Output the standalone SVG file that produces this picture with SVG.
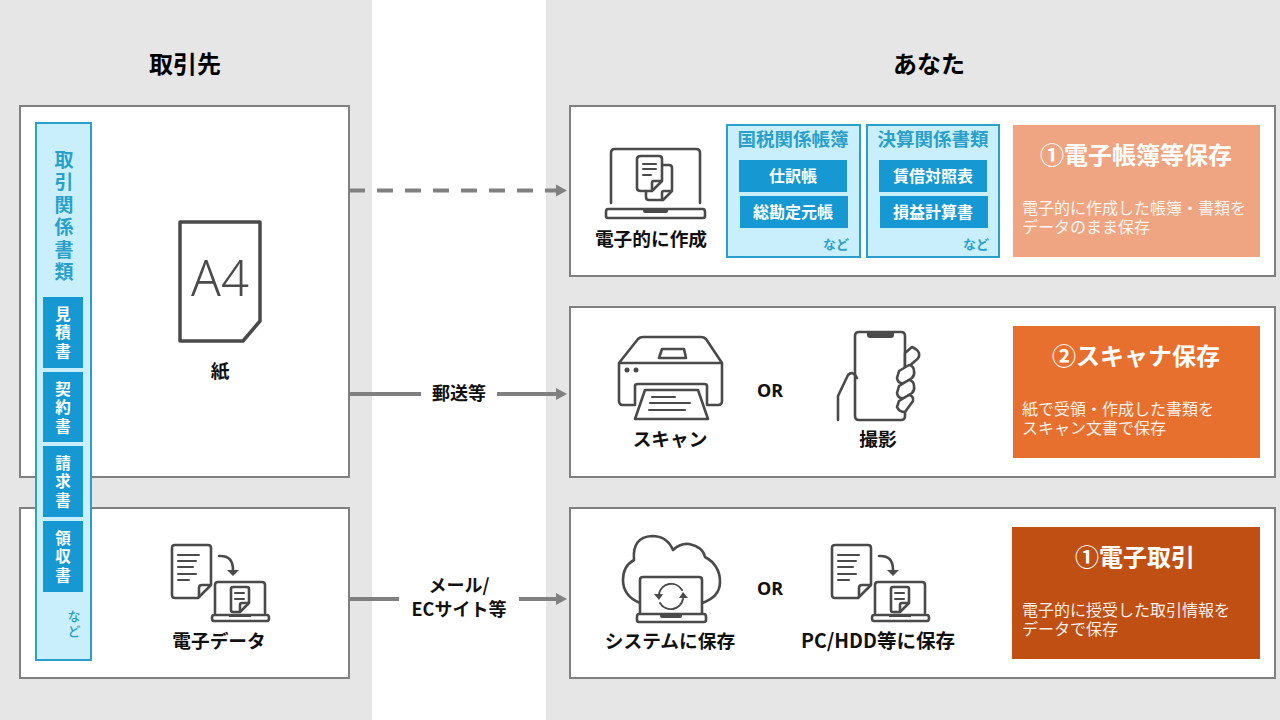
<svg xmlns="http://www.w3.org/2000/svg" width="1280" height="720" viewBox="0 0 1280 720">
<style>
text{font-family:"Noto Sans CJK JP","Noto Sans",sans-serif;font-weight:700;text-anchor:middle}
.box{fill:#fff;stroke:#808080;stroke-width:2}
.h{font-size:24px;fill:#000}
.l{font-size:18.700px;fill:#111}
.ic{fill:none;stroke:#4a4a4a;stroke-width:2.6;stroke-linejoin:round;stroke-linecap:round}
.icf{fill:#fff;stroke:#4a4a4a;stroke-width:2.6;stroke-linejoin:round;stroke-linecap:round}
.thin{stroke-width:2}
.lb{fill:#c9eefc;stroke:#2a9fc9;stroke-width:2}
.bl{fill:#1699d3}
.wt{fill:#fff;font-size:16px}
.bt{fill:#2a9fc9}
.v{writing-mode:vertical-rl;text-anchor:start}
.vt{font-size:19px;letter-spacing:3.500px}
.vw{font-size:15.500px;letter-spacing:3px;fill:#fff}
.vn{font-size:13px;letter-spacing:2px;font-weight:500}
.cap{fill:#fff;font-size:24px}
.desc{fill:#fff;font-size:16px;font-weight:400;text-anchor:start;opacity:.9}
.con{fill:none;stroke:#808080;stroke-width:4}
.tag{font-size:18px;fill:#111}
.or{font-size:18px;fill:#111;font-family:"Noto Sans",sans-serif}
</style>
<defs>
<marker id="ah" markerUnits="userSpaceOnUse" markerWidth="12" markerHeight="14" refX="1" refY="7" orient="auto"><path d="M0 1L11 7L0 13Z" fill="#808080"/></marker>
<g id="xfer">
<path class="ic" d="M27 54H4Q1 54 1 51V4Q1 1 4 1H37Q40 1 40 4V41Z"/>
<path class="ic" d="M28 53V44Q28 41 31 41H39"/>
<path class="ic thin" d="M7 11H28M7 17H25M7 23H22M7 30H25M7 36H18"/>
<path class="ic" d="M48 12Q62 11 62 26"/><path d="M56 26H68L62 32Z" fill="#4a4a4a"/>
<path class="ic" d="M44 69V41Q44 38 47 38H91Q94 38 94 41V69"/>
<path class="ic" d="M43 71H96Q98 71 98 74T96 77H43Q41 77 41 74T43 71Z"/>
<path d="M58 71H80V73H58Z" fill="#4a4a4a"/>
<path class="ic" d="M62 43H76Q78 43 78 45V59L69 68H62Q60 68 60 66V45Q60 43 62 43Z"/>
<path class="ic" d="M69 67V61Q69 59 71 59H77"/>
<path class="ic thin" d="M64 49H73M64 55H73"/>
</g>
</defs>
<rect width="1280" height="720" fill="#e6e6e6"/>
<rect x="372" width="174" height="720" fill="#fff"/>
<text class="h" x="185" y="73">取引先</text>
<text class="h" x="929" y="73">あなた</text>

<g id="partner-paper"><rect class="box" x="20" y="106" width="329" height="371"/>
<path d="M180 222H260V321L243 341H180Z" fill="#fff" stroke="#4a4a4a" stroke-width="3.500" stroke-linejoin="round"/>
<text x="220" y="296" font-size="49" style="font-weight:300;fill:#4a4a4a;font-family:'Noto Sans'">A4</text>
<text class="l" x="220" y="378">紙</text></g>
<g id="partner-data"><rect class="box" x="20" y="508" width="329" height="170"/>
<use href="#xfer" x="171" y="544"/>
<text class="l" x="219" y="648">電子データ</text></g>

<g id="docs"><rect class="lb" x="36" y="123" width="55" height="537"/>
<text class="v vt bt" x="64" y="150">取引関係書類</text>
<rect class="bl" x="43" y="297" width="40" height="71"/><rect class="bl" x="43" y="372" width="40" height="70"/><rect class="bl" x="43" y="446" width="40" height="71"/><rect class="bl" x="43" y="521" width="40" height="71"/>
<text class="v vw" x="63" y="306">見積書</text>
<text class="v vw" x="63" y="381">契約書</text>
<text class="v vw" x="63" y="455">請求書</text>
<text class="v vw" x="63" y="530">領収書</text>
<text class="v vn bt" x="74" y="610">など</text></g>

<g id="connectors">
<path class="con" d="M350 190.500H557" stroke-dasharray="16 12" stroke-dashoffset="1" marker-end="url(#ah)"/>
<path class="con" d="M350 394H421"/><path class="con" d="M497 394H557" marker-end="url(#ah)"/>
<path class="con" d="M350 599H399"/><path class="con" d="M519 599H557" marker-end="url(#ah)"/>
<text class="tag" x="459" y="400">郵送等</text><text class="tag" x="459" y="592">メール/</text><text class="tag" x="459" y="616">ECサイト等</text>
</g>

<g id="you-electronic"><rect class="box" x="570" y="106" width="705" height="170"/>
<path class="ic" d="M611 203V153Q611 149 615 149H696Q700 149 700 153V203"/>
<path class="ic" d="M608 209H703Q705 209 705 212V216Q705 218 703 218H608Q606 218 606 216V212Q606 209 608 209Z"/>
<path d="M643 209H668V211Q668 213 666 213H645Q643 213 643 211Z" fill="#4a4a4a"/>
<path class="ic" d="M641 156H659Q662 156 662 159V181L652 191H641Q637 191 637 188V159Q637 156 641 156Z"/>
<path class="ic" d="M663 165H669Q672 165 672 168V191L663 200H649Q646 200 646 197V191"/>
<path class="ic" d="M652 190V183Q652 181 654 181H661M662 200V193Q662 191 664 191H671"/>
<path class="ic thin" d="M643 164H656M643 169H656M643 175H651"/>
<text class="l" x="651" y="246">電子的に作成</text>
<rect class="lb" x="727" y="125" width="133" height="132"/><rect class="lb" x="867" y="125" width="132" height="132"/>
<g class="bt" font-size="18.500"><text x="793" y="146">国税関係帳簿</text><text x="933" y="146">決算関係書類</text></g>
<rect class="bl" x="739" y="160" width="108" height="32"/><rect class="bl" x="740" y="196" width="108" height="32"/>
<rect class="bl" x="879" y="160" width="108" height="32"/><rect class="bl" x="880" y="196" width="108" height="32"/>
<g class="wt"><text x="793" y="182">仕訳帳</text><text x="793" y="218">総勘定元帳</text><text x="933" y="182">賃借対照表</text><text x="933" y="218">損益計算書</text></g>
<g class="bt" font-size="13"><text x="836" y="249">など</text><text x="976" y="249">など</text></g>
<rect x="1013" y="125" width="247" height="132" fill="#f0a582"/>
<text class="cap" x="1136" y="164">①電子帳簿等保存</text>
<text class="desc" x="1022" y="214">電子的に作成した帳簿・書類を</text><text class="desc" x="1022" y="233">データのまま保存</text></g>

<g id="you-scan"><rect class="box" x="570" y="307" width="705" height="170"/>
<path class="ic" d="M619 363L638 339Q640 337 643 337H701Q704 337 706 339L722 363V401Q722 405 718 405H707M619 363V401Q619 405 623 405H635M619 363H722"/>
<path class="ic" d="M659 358L662 349H684L686 358Z"/>
<circle cx="627" cy="370" r="2.500" fill="#4a4a4a"/><circle cx="636" cy="370" r="2.500" fill="#4a4a4a"/>
<path class="ic" d="M635 404V386Q635 384 638 384H704Q707 384 707 386V404"/>
<path class="icf" d="M645 390H698L708 419H635Z"/>
<path class="ic thin" d="M652 397H675M650 403H690M649 410H685"/>
<path class="ic" d="M855 336Q855 332 859 332H901Q905 332 905 336V416Q905 420 901 420H859Q855 420 855 416Z"/>
<path d="M867 332H894V335Q894 338 891 338H870Q867 338 867 335Z" fill="#4a4a4a"/>
<path class="ic" d="M838 420V396L848 375Q853 370 857 378"/>
<path class="icf" d="M905 353L912 347Q917 349 919 353Q920 358 915 361L905 370Z"/>
<path class="icf" d="M899 371L909 365Q914 366 914 371Q915 375 912 378L904 383Q898 384 897 378Z"/>
<path class="icf" d="M899 386L909 380Q914 381 914 386Q915 390 912 393L904 398Q898 399 897 393Z"/>
<path class="icf" d="M899 401L909 395Q914 396 913 401L905 412Q899 412 897 407Z"/>
<text class="l" x="670" y="446">スキャン</text><text class="l" x="878" y="446">撮影</text>
<text class="or" x="770" y="397">OR</text>
<rect x="1013" y="326" width="247" height="132" fill="#e8702f"/>
<text class="cap" x="1136" y="365">②スキャナ保存</text>
<text class="desc" x="1022" y="415">紙で受領・作成した書類を</text><text class="desc" x="1022" y="434">スキャン文書で保存</text></g>

<g id="you-edi"><rect class="box" x="570" y="508" width="705" height="170"/>
<path class="ic" d="M640 603Q623 596 623 580Q623 566 634 560Q632 537 652 536Q667 536 673 550Q680 543 689 544Q703 547 705 557Q720 565 720 582Q720 597 702 603"/>
<path class="icf" d="M640 613V580Q640 577 643 577H699Q702 577 702 580V613"/>
<path class="icf" d="M639 614H704Q706 614 706 617V620Q706 622 704 622H639Q637 622 637 620V617Q637 614 639 614Z"/>
<path d="M660 614H682V616Q682 618 680 618H662Q660 618 660 616Z" fill="#4a4a4a"/>
<path class="ic thin" d="M659 594A12.500 12.500 0 0 1 682 590M683 599A12.500 12.500 0 0 1 660 603"/>
<path d="M654 594H663L659 600ZM679 598H688L683 592Z" fill="#4a4a4a"/>
<use href="#xfer" x="831" y="544"/>
<text class="l" x="670" y="648">システムに保存</text><text class="l" x="878" y="648" style="font-size:19.500px">PC/HDD等に保存</text>
<text class="or" x="770" y="595">OR</text>
<rect x="1012" y="527" width="248" height="132" fill="#c04f14"/>
<text class="cap" x="1135" y="566">①電子取引</text>
<text class="desc" x="1022" y="616">電子的に授受した取引情報を</text><text class="desc" x="1022" y="635">データで保存</text></g>
</svg>
